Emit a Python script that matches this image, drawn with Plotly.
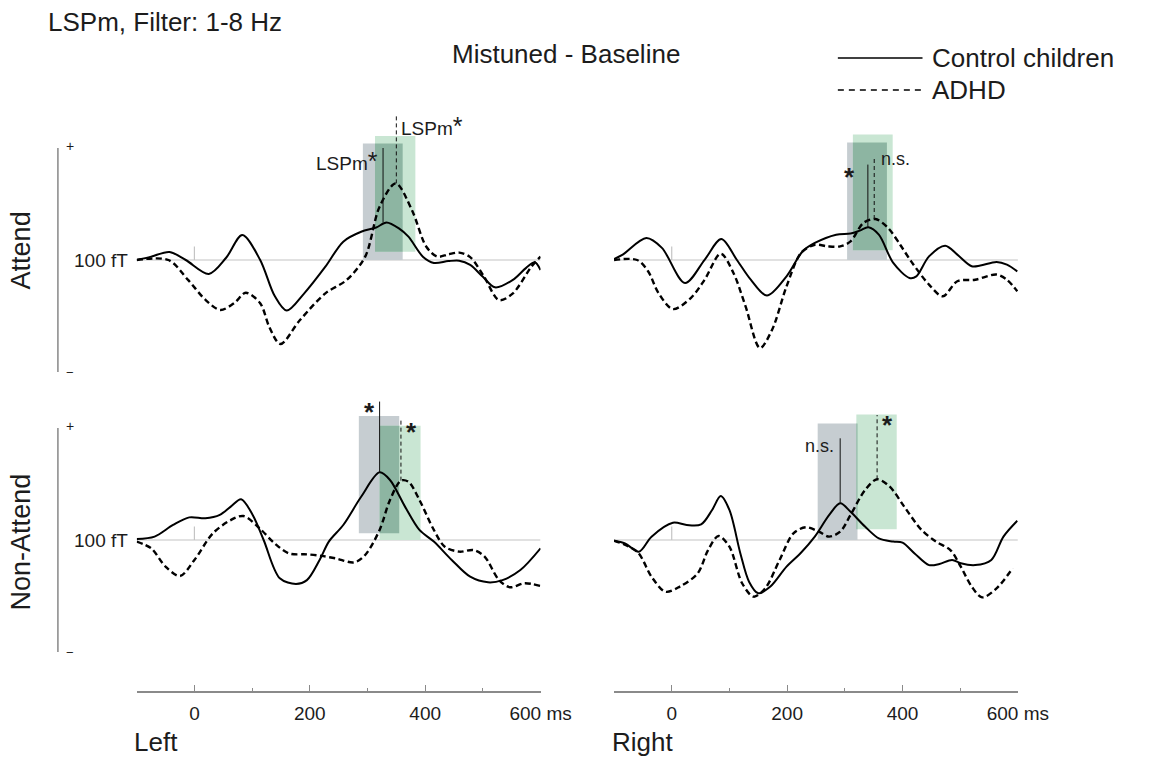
import plotly.graph_objects as go

W, H = 1153, 758
FONT = "Liberation Sans, Arial, Helvetica, sans-serif"
INK = "#1c1c1c"

# time axis (ms)
T_START, T_END = -100, 600

# ---------------------------------------------------------------------------
# Waveforms (latency in ms, amplitude in fT, relative to baseline)
# ---------------------------------------------------------------------------
# Attend, left hemisphere
la_ctrl_t = [-100, -75, -43, -15, 25, 55, 83, 114, 139, 160, 190, 227, 258, 289, 315, 333,
             355, 371, 396, 415, 440, 459, 478, 500, 521, 552, 575, 590, 600]
la_ctrl_v = [0, 1.5, 3.6, 0, -6.2, 1, 11.2, 0, -16, -22.6, -15, -3, 8.2, 12.6, 14.5, 16.7,
             14, 10.4, 1.5, -1.3, -0.5, -0.3, -2.2, -7.5, -12.2, -8.9, -3.5, -1, -4.5]
la_adhd_t = [-100, -45, -11, 20, 45, 70, 89, 114, 130, 149, 183, 227, 264, 296, 321, 349,
             377, 402, 421, 440, 459, 478, 502, 528, 552, 584, 600]
la_adhd_v = [0, 0, -8.9, -18, -22.3, -19, -14.6, -19.3, -30, -37.5, -26.8, -14.9, -8.9, 1.5,
             23.8, 34.2, 22.3, 5.9, 1.5, 2.5, 3.3, 1.3, -7.4, -17.9, -14.9, -3, 1.5]

# Attend, right hemisphere
ra_ctrl_t = [-100, -85, -44, -17, 23, 57, 86, 113, 137, 165, 199, 227, 248, 285, 310, 326,
             341, 359, 384, 412, 424, 446, 474, 495, 520, 535, 563, 581, 599]
ra_ctrl_v = [0.4, 2.4, 9.8, 5.4, -10.3, 0.1, 9.4, 0, -8.8, -15.9, -7.3, 3.9, 7.6, 11.3, 11.8,
             13.1, 14.6, 11.3, -1.3, -8, -7.3, 1.6, 6.4, 2.4, -2.8, -2.5, -0.9, -2.1, -5.1]
ra_adhd_t = [-100, -60, -41, -23, 2, 33, 57, 85, 107, 128, 153, 174, 199, 224, 248, 270,
             292, 310, 332, 353, 375, 396, 415, 446, 470, 495, 526, 563, 581, 599]
ra_adhd_v = [0, 0, -5, -14.7, -21.9, -17, -8.8, 2.8, -5.8, -20.7, -39.3, -31.1, -11.8, 3.1,
             6.8, 6.1, 6.1, 8.3, 16.5, 18.3, 14.3, 6.8, -0.6, -11, -16.2, -9.5, -8.8, -6.5,
             -8.8, -14]

# Non-attend, left hemisphere
ln_ctrl_t = [-100, -69, -37, -9, 19, 44, 63, 81, 101, 120, 148, 176, 195, 217, 233, 258,
             289, 321, 339, 365, 390, 415, 446, 478, 509, 534, 565, 600]
ln_ctrl_v = [0.4, 1.5, 6.7, 10.1, 9.7, 11.2, 14.9, 18.2, 11.2, 0, -17.1, -19.6, -17.9, -8.9,
             -0.7, 6.7, 19.3, 30.2, 26.8, 14.9, 4.5, -0.7, -8.9, -16.4, -18.9, -17.9, -13.4,
             -3.7]
ln_adhd_t = [-100, -75, -50, -25, 0, 32, 63, 85, 113, 139, 164, 195, 220, 245, 277, 296,
             321, 339, 358, 371, 390, 415, 434, 459, 484, 503, 528, 547, 572, 600]
ln_adhd_v = [-0.7, -3.7, -11.9, -16.1, -8.9, 3, 8.9, 10.7, 5.2, -1.5, -6, -6.4, -7.1, -8.2,
             -10, -6.7, 4.5, 17.9, 26.5, 26, 17.9, 4.5, -3, -5.2, -4.5, -7.4, -17.9, -21.1,
             -19.3, -20.5]

# Non-attend, right hemisphere
rn_ctrl_t = [-100, -81, -57, -35, 2, 26, 51, 70, 85, 100, 119, 134, 150, 171, 199, 224,
             248, 273, 292, 310, 335, 359, 384, 400, 421, 446, 464, 486, 501, 526, 554, 575,
             599]
rn_ctrl_v = [-0.3, -1.5, -5.2, 1.5, 7.7, 6.7, 7, 13.4, 19.6, 13.4, -6, -18.6, -23.8, -20.8,
             -11.9, -5.7, 1.5, 11.2, 16.4, 12.6, 6, 0.7, -0.7, -1.2, -6, -11.2, -10.7, -8.9,
             -10.4, -11.2, -8.9, 1.5, 8.6]
rn_adhd_t = [-100, -60, -35, -11, 14, 45, 63, 81, 100, 122, 142, 162, 187, 211, 233, 255,
             273, 292, 310, 335, 356, 378, 403, 433, 458, 483, 501, 520, 538, 563, 591]
rn_adhd_v = [-0.3, -5.2, -16.4, -23.1, -20.8, -14.9, -4.5, 1.8, -3, -19.3, -25.3, -21.6,
             -8.9, 3, 5.7, 3.7, 1.5, 3.7, 11.2, 22.3, 27.1, 23.8, 14.9, 4.5, -0.7, -4.5,
             -11.9, -20.8, -25.6, -21.6, -12.6]

# ---------------------------------------------------------------------------
# Analysis windows [t_start, t_end, amp_low, amp_high] and peak markers
# ---------------------------------------------------------------------------
win_ctrl = {"LA": [292, 361, 0, 52], "RA": [304, 373, 0, 52.5],
            "LN": [285, 355, 3, 55.4], "RN": [253, 322, 0, 52]}
win_adhd = {"LA": [313, 383, 3.7, 55.4], "RA": [314, 383, 4.3, 56],
            "LN": [321, 392, 0, 51], "RN": [320, 390, 4.8, 56]}

# peak latency, peak amplitude, top of marker line
peak_ctrl = {"LA": [327, 16.7, 50], "RA": [340, 14.6, 42.6],
             "LN": [321, 30.2, 61.8], "RN": [292, 16.4, 45.4]}
peak_adhd = {"LA": [350, 34.2, 64.7], "RA": [351, 18.3, 46],
             "LN": [358, 26.5, 54.3], "RN": [356, 27.1, 55.8]}

STAR = "<span style='font-size:25px'>*</span>"
# significance labels: text, latency, amplitude, anchor, size, bold
sig_labels = {
    "LA": [("LSPm" + STAR, 322, 44, "right", 19, False),
           ("LSPm" + STAR, 354, 60, "left", 19, False)],
    "RA": [("*", 322, 37, "right", 26, True),
           ("n.s.", 359, 45, "left", 18, False)],
    "LN": [("*", 316, 57, "right", 26, True),
           ("*", 364, 48, "left", 26, True)],
    "RN": [("n.s.", 284, 42, "right", 18, False),
           ("*", 361, 51.5, "left", 26, True)],
}

tick_vals = [0, 200, 400, 600]
tick_text = ["0", "200", "400", "600 ms"]
minor_vals = [-100, 100, 300, 500]

# ---------------------------------------------------------------------------
# Layout geometry (pixels of the 1153 x 758 canvas, stored as paper fractions)
# ---------------------------------------------------------------------------
PX_PER_FT = 2.24
COL_PX = {"L": (140.5, 555.5), "R": (631.0, 1046.0)}
ROW_PX = {"A": (105.0, 385.0, 260.0), "N": (395.0, 690.5, 540.0)}  # top, bottom, baseline

GRAY_BOX = "#c6cdd1"
GREEN_BOX = "#c9e6d3"
OVERLAP_BOX = "#8db5a2"
BASE_GRAY = "#c4c4c4"
AXIS_GRAY = "#8a8a8a"


def fx(px):
    return px / W


def fy(py):
    return 1 - py / H


panels = {
    "LA": dict(col="L", row="A", xa="x", ya="y",
               ctrl=(la_ctrl_t, la_ctrl_v), adhd=(la_adhd_t, la_adhd_v)),
    "RA": dict(col="R", row="A", xa="x2", ya="y2",
               ctrl=(ra_ctrl_t, ra_ctrl_v), adhd=(ra_adhd_t, ra_adhd_v)),
    "LN": dict(col="L", row="N", xa="x3", ya="y3",
               ctrl=(ln_ctrl_t, ln_ctrl_v), adhd=(ln_adhd_t, ln_adhd_v)),
    "RN": dict(col="R", row="N", xa="x4", ya="y4",
               ctrl=(rn_ctrl_t, rn_ctrl_v), adhd=(rn_adhd_t, rn_adhd_v)),
}

fig = go.Figure()
shapes = []
annotations = []
layout_axes = {}

for key, p in panels.items():
    xa, ya = p["xa"], p["ya"]
    c0, c1 = COL_PX[p["col"]]
    top, bot, base = ROW_PX[p["row"]]
    yr = [-(bot - base) / PX_PER_FT, (base - top) / PX_PER_FT]
    bottom_row = p["row"] == "N"

    xname = "xaxis" + xa[1:]
    yname = "yaxis" + ya[1:]
    xcfg = dict(domain=[fx(c0), fx(c1)], range=[T_START, T_END], anchor=ya,
                showgrid=False, zeroline=False, fixedrange=True)
    if bottom_row:
        xcfg.update(visible=True, showline=True, linecolor=AXIS_GRAY, linewidth=1.6,
                    ticks="inside", ticklen=6, tickwidth=1.3, tickcolor=AXIS_GRAY,
                    tickmode="array", tickvals=tick_vals, ticktext=tick_text,
                    tickfont=dict(family=FONT, size=19, color=INK),
                    ticklabelstandoff=5,
                    minor=dict(tickmode="array", tickvals=minor_vals, ticks="inside",
                               ticklen=3, tickwidth=1.2, tickcolor=AXIS_GRAY))
    else:
        xcfg.update(visible=False)
    layout_axes[xname] = xcfg
    layout_axes[yname] = dict(domain=[fy(bot), fy(top)], range=yr, anchor=xa,
                              visible=False, fixedrange=True)

    # baseline and stimulus-onset tick
    shapes.append(dict(type="line", xref=xa, yref=ya, x0=T_START, x1=T_END, y0=0, y1=0,
                       line=dict(color=BASE_GRAY, width=1.2), layer="below"))
    shapes.append(dict(type="line", xref=xa, yref=ya, x0=0, x1=0, y0=0, y1=6,
                       line=dict(color=BASE_GRAY, width=1.2), layer="below"))

    # analysis windows, with their overlap drawn darker
    g = win_ctrl[key]
    n = win_adhd[key]
    shapes.append(dict(type="rect", xref=xa, yref=ya, x0=g[0], x1=g[1], y0=g[2], y1=g[3],
                       fillcolor=GRAY_BOX, line=dict(width=0), layer="below"))
    shapes.append(dict(type="rect", xref=xa, yref=ya, x0=n[0], x1=n[1], y0=n[2], y1=n[3],
                       fillcolor=GREEN_BOX, line=dict(width=0), layer="below"))
    ox0, ox1 = max(g[0], n[0]), min(g[1], n[1])
    oy0, oy1 = max(g[2], n[2]), min(g[3], n[3])
    if ox1 > ox0 and oy1 > oy0:
        shapes.append(dict(type="rect", xref=xa, yref=ya, x0=ox0, x1=ox1, y0=oy0, y1=oy1,
                           fillcolor=OVERLAP_BOX, line=dict(width=0), layer="below"))

    # waveforms
    ct, cv = p["ctrl"]
    at, av = p["adhd"]
    fig.add_trace(go.Scatter(x=ct, y=cv, xaxis=xa, yaxis=ya, mode="lines",
                             line=dict(color="#000000", width=2, shape="spline",
                                       smoothing=0.9),
                             showlegend=False, hoverinfo="skip"))
    fig.add_trace(go.Scatter(x=at, y=av, xaxis=xa, yaxis=ya, mode="lines",
                             line=dict(color="#000000", width=2.4, shape="spline",
                                       smoothing=0.9, dash="6px,3.5px"),
                             showlegend=False, hoverinfo="skip"))

    # peak markers
    pc = peak_ctrl[key]
    pa = peak_adhd[key]
    fig.add_trace(go.Scatter(x=[pc[0], pc[0]], y=[pc[1], pc[2]], xaxis=xa, yaxis=ya,
                             mode="lines", line=dict(color="#111111", width=1),
                             showlegend=False, hoverinfo="skip"))
    fig.add_trace(go.Scatter(x=[pa[0], pa[0]], y=[pa[1], pa[2]], xaxis=xa, yaxis=ya,
                             mode="lines", line=dict(color="#111111", width=1,
                                                      dash="4px,3px"),
                             showlegend=False, hoverinfo="skip"))

    for text, tx, ty, anchor, size, bold in sig_labels[key]:
        annotations.append(dict(xref=xa, yref=ya, x=tx, y=ty, text=text, showarrow=False,
                                xanchor=anchor, yanchor="middle",
                                font=dict(family=FONT, size=size, color=INK,
                                          weight="bold" if bold else "normal")))

# amplitude scale bars with "100 fT" reference at baseline
for ya in ["y", "y3"]:
    shapes.append(dict(type="line", xref="paper", yref=ya, x0=fx(59.5), x1=fx(59.5),
                       y0=-50, y1=50, line=dict(color="#8f8f8f", width=1.6)))
    annotations.append(dict(xref="paper", yref=ya, x=fx(66), y=51, text="+",
                            showarrow=False, xanchor="left", yanchor="middle",
                            font=dict(family=FONT, size=14, color=INK)))
    annotations.append(dict(xref="paper", yref=ya, x=fx(66), y=-50, text="\u2212",
                            showarrow=False, xanchor="left", yanchor="middle",
                            font=dict(family=FONT, size=13, color=INK)))
    annotations.append(dict(xref="paper", yref=ya, x=fx(134), y=0, text="100 fT",
                            showarrow=False, xanchor="right", yanchor="middle",
                            font=dict(family=FONT, size=19, color=INK)))


# titles, row / column labels
def text_at(px, py, text, size, anchor="left", angle=0):
    annotations.append(dict(xref="paper", yref="paper", x=fx(px), y=fy(py), text=text,
                            showarrow=False, xanchor=anchor, yanchor="middle",
                            textangle=angle, font=dict(family=FONT, size=size, color=INK)))


text_at(47, 22, "LSPm, Filter: 1-8 Hz", 26)
text_at(582, 54, "Mistuned - Baseline", 26, anchor="center")
text_at(22, 250, "Attend", 27, anchor="center", angle=-90)
text_at(22, 542, "Non-Attend", 27, anchor="center", angle=-90)
text_at(136, 742, "Left", 26)
text_at(627, 742, "Right", 26)

# legend
shapes.append(dict(type="line", xref="paper", yref="paper", x0=fx(861), x1=fx(948),
                   y0=fy(58), y1=fy(58), line=dict(color="#000000", width=1.5)))
shapes.append(dict(type="line", xref="paper", yref="paper", x0=fx(861), x1=fx(948),
                   y0=fy(90), y1=fy(90), line=dict(color="#000000", width=1.5,
                                                   dash="6px,5px")))
text_at(956, 58, "Control children", 26)
text_at(956, 90, "ADHD", 26)

# width follows the page so the whole canvas always spans the window
fig.update_layout(
    autosize=True, height=H,
    margin=dict(l=0, r=0, t=0, b=0),
    paper_bgcolor="#ffffff", plot_bgcolor="rgba(0,0,0,0)",
    showlegend=False,
    shapes=shapes,
    annotations=annotations,
    **layout_axes,
)

page_js = ("document.documentElement.style.margin='0';"
           "document.body.style.margin='0';"
           "document.body.style.overflow='hidden';"
           "Plotly.Plots.resize(document.getElementById('{plot_id}'));")

fig.write_html("out.html", config={"displayModeBar": False, "responsive": True},
               default_width="100%", default_height="%dpx" % H, post_script=page_js)
